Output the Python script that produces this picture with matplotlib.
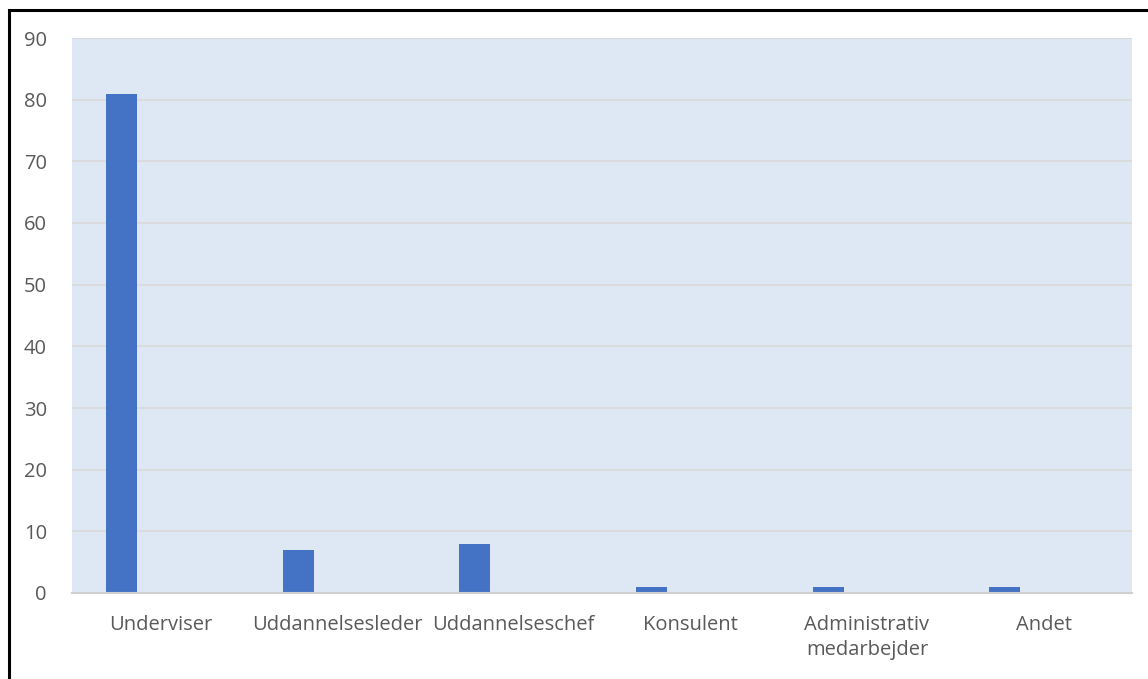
import matplotlib
matplotlib.use('Agg')
import matplotlib.pyplot as plt
from matplotlib.patches import Rectangle

plt.rcParams['font.family'] = ['Open Sans', 'DejaVu Sans']

# data
categories = ['Underviser', 'Uddannelsesleder', 'Uddannelseschef', 'Konsulent',
              'Administrativ\nmedarbejder', 'Andet']
values = [81, 7, 8, 1, 1, 1]
yticks = list(range(0, 100, 10))

W, H = 1148, 679
fig = plt.figure(figsize=(W / 100, H / 100), dpi=100)
ax = fig.add_axes([72 / W, 1 - 593 / H, (1132 - 72) / W, (593 - 38) / H])

ax.set_facecolor('#DEE8F4')
ax.bar([i - 0.22 for i in range(len(values))], values, width=0.175,
       color='#4472C4', zorder=3)

ax.set_xlim(-0.5, len(categories) - 0.5)
ax.set_ylim(0, 90)
ax.set_yticks(yticks)
ax.set_xticks(range(len(categories)))
ax.set_xticklabels(categories, linespacing=1.35)
ax.tick_params(axis='both', length=0, labelsize=14.5, colors='#595959')
ax.tick_params(axis='y', pad=18)
ax.tick_params(axis='x', pad=16)

ax.grid(axis='y', color='#D9D9D9', linewidth=1.2, zorder=1)
for s in ['left', 'right', 'top']:
    ax.spines[s].set_visible(False)
ax.spines['bottom'].set_color('#D0D0D0')
ax.spines['bottom'].set_linewidth(1.5)
ax.spines['bottom'].set_zorder(4)

# outer black frame (right/bottom edges cut off)
fig.patches.append(Rectangle((8.5 / W, -0.1), 1.2, 1 - 10 / H + 0.1,
                             transform=fig.transFigure, fill=False,
                             edgecolor='black', linewidth=2.2))

fig.savefig('out.png', dpi=100, facecolor='white')
